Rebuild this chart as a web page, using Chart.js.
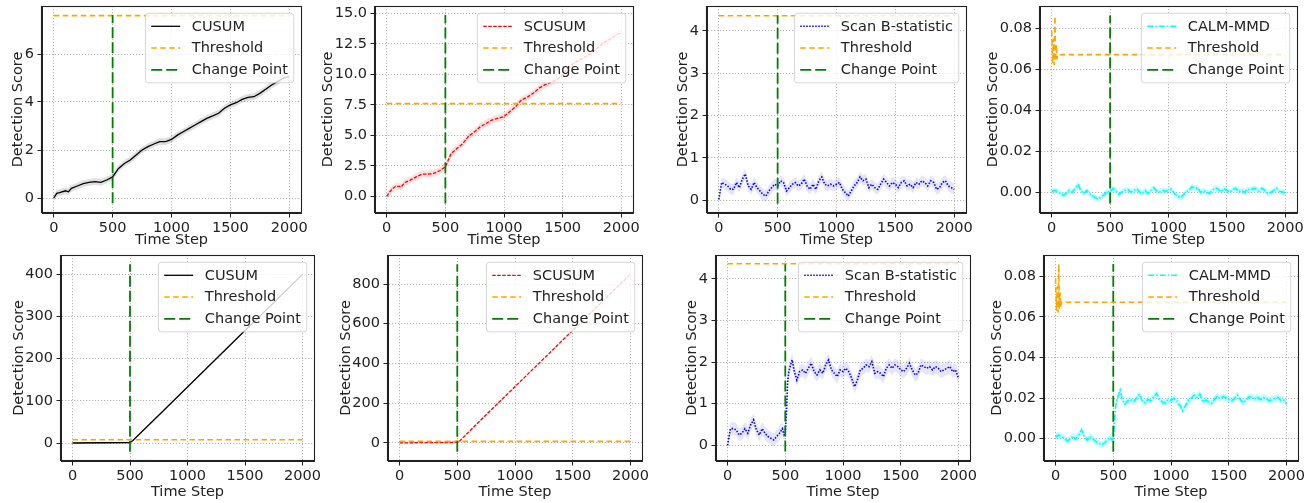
<!DOCTYPE html>
<html>
<head>
<meta charset="utf-8">
<script src="https://cdn.jsdelivr.net/npm/chart.js@4.4.1/dist/chart.umd.min.js"></script>
<style>
  body { margin:0; background:#fff; width:1315px; height:503px; position:relative; overflow:hidden; }
  canvas { position:absolute; }
</style>
</head>
<body>
<canvas id="c1"></canvas><canvas id="c2"></canvas><canvas id="c3"></canvas><canvas id="c4"></canvas>
<canvas id="c5"></canvas><canvas id="c6"></canvas><canvas id="c7"></canvas><canvas id="c8"></canvas>
<script>
// ---- data ----
const xTicks = [0, 500, 1000, 1500, 2000];
const changePoint = 500;

// top row (no change in mean after 500)
const cusumTopX = [0,25,50,100,125,150,200,250,300,350,400,450,500,550,600,650,700,750,800,850,900,950,1000,1050,1100,1150,1200,1250,1300,1350,1400,1450,1500,1550,1600,1650,1700,1750,1800,1850,1900,1950,2000];
const cusumTopY = [0,0.19,0.22,0.3,0.26,0.4,0.5,0.6,0.65,0.68,0.65,0.75,0.88,1.23,1.44,1.58,1.79,2.0,2.14,2.25,2.35,2.35,2.44,2.62,2.76,2.9,3.04,3.18,3.32,3.42,3.53,3.74,3.88,3.97,4.11,4.19,4.22,4.36,4.53,4.71,4.85,4.99,5.06];

const scusumTopX = [0,25,50,75,100,125,150,200,250,300,350,400,450,500,525,550,600,650,700,750,800,850,900,950,1000,1050,1100,1150,1200,1250,1300,1350,1400,1450,1500,1550,1600,1650,1700,1750,1800,1850,1900,1950,2000];
const scusumTopY = [0,0.36,0.63,0.82,0.82,0.77,1.1,1.32,1.59,1.81,1.81,1.87,2.09,2.42,2.97,3.52,3.93,4.34,4.95,5.3,5.71,5.99,6.26,6.4,6.54,6.95,7.36,7.91,8.13,8.46,8.87,9.15,9.34,9.56,9.97,10.52,10.93,11.21,11.48,11.76,12.17,12.58,12.86,13.19,13.46];

const steps25 = [0,25,50,75,100,125,150,175,200,225,250,275,300,325,350,375,400,425,450,475,500,525,550,575,600,625,650,675,700,725,750,775,800,825,850,875,900,925,950,975,1000,1025,1050,1075,1100,1125,1150,1175,1200,1225,1250,1275,1300,1325,1350,1375,1400,1425,1450,1475,1500,1525,1550,1575,1600,1625,1650,1675,1700,1725,1750,1775,1800,1825,1850,1875,1900,1925,1950,1975,2000];
const scanBTopY = [0.02,0.42,0.38,0.34,0.26,0.26,0.42,0.3,0.5,0.62,0.34,0.26,0.42,0.3,0.22,0.14,0.1,0.22,0.3,0.38,
  0.34,0.46,0.42,0.22,0.3,0.38,0.42,0.34,0.38,0.5,0.34,0.26,0.38,0.26,0.46,0.55,0.38,0.34,0.38,0.34,
  0.38,0.42,0.26,0.18,0.1,0.22,0.34,0.42,0.55,0.46,0.5,0.3,0.38,0.3,0.26,0.38,0.5,0.42,0.34,0.42,
  0.38,0.3,0.42,0.46,0.34,0.38,0.3,0.42,0.38,0.46,0.42,0.34,0.46,0.42,0.26,0.3,0.42,0.46,0.34,0.3,0.26];
const mmdTopY = [0.0005,0.001,0.0006,-0.0005,-0.0013,-0.0005,0.001,0,0.002,0.004,0.001,-0.0005,0.001,-0.0005,-0.0016,-0.0026,-0.0032,-0.002,-0.001,0.0006,
  0,0.002,0.001,-0.001,0.0003,0.001,0.0016,0.0003,0.0006,0.002,0.0003,-0.0005,0.001,-0.0005,0.001,0.0023,0.0006,0.0003,0.001,0.0006,
  0.001,0.0016,-0.0005,-0.0016,-0.0026,-0.0013,0.0003,0.001,0.0028,0.002,0.0023,0,0.001,0,-0.0005,0.001,0.0023,0.0016,0.0003,0.002,
  0.001,0,0.0016,0.002,0.0003,0.001,0,0.0016,0.001,0.002,0.0016,0.0006,0.002,0.001,-0.0005,0,0.001,0.002,0.0006,0.0003,-0.0005];

// bottom row (mean shift at 500)
const cusumBotX = [0,250,500,525,750,1000,1250,1500,1750,2000];
const cusumBotY = [0,0.6,0.9,6,66,133,200,267,333,400];
const scusumBotY = [0,1.6,2.4,12,142,283,425,567,708,850];

const stepsShift = [0,25,50,75,100,125,150,175,200,225,250,275,300,325,350,375,400,425,450,475,490,500,510,520,530,550,560,575,
  600,625,650,675,700,725,750,775,800,825,850,875,900,925,950,975,1000,1025,1050,1075,1100,1125,1150,1175,1200,1225,1250,1275,1300,1325,
  1350,1375,1400,1425,1450,1475,1500,1525,1550,1575,1600,1625,1650,1675,1700,1725,1750,1775,1800,1825,1850,1875,1900,1925,1950,1975,2000];
const scanBBotY = [0,0.4,0.4,0.37,0.25,0.29,0.4,0.29,0.49,0.61,0.37,0.25,0.4,0.29,0.21,0.17,0.13,0.21,0.29,0.4,
  0.25,0.29,0.77,1.49,1.77,1.97,2.05,1.81,
  1.57,1.77,1.81,1.73,1.85,1.97,1.77,1.69,1.81,1.73,1.93,2.05,1.81,1.73,1.65,1.81,1.77,1.85,1.77,1.61,
  1.41,1.57,1.81,1.85,1.93,1.89,2.01,1.73,1.77,1.73,1.65,1.85,1.93,1.85,1.93,1.89,1.81,1.77,1.85,1.97,
  1.81,1.69,1.73,1.93,1.89,1.85,1.89,1.81,1.89,1.85,1.77,1.81,1.85,1.89,1.77,1.81,1.61];
const mmdBotY = [0.0007,0.0018,0.001,0.0002,-0.001,-0.0003,0.0013,-0.0003,0.0018,0.0043,0.001,-0.0007,0.0013,-0.0003,-0.0015,-0.0023,-0.0031,-0.002,-0.0007,0.0007,
  -0.0007,0.0002,0.0075,0.0157,0.019,0.0223,0.024,0.0198,
  0.017,0.0187,0.0193,0.0182,0.0198,0.022,0.0187,0.0177,0.0193,0.0187,0.0207,0.0223,0.0193,0.0182,0.0174,0.0193,0.019,0.0198,0.0187,0.0166,
  0.0138,0.016,0.019,0.0198,0.0215,0.0203,0.022,0.0182,0.019,0.0182,0.0174,0.0193,0.021,0.0198,0.0207,0.0203,0.0193,0.0187,0.0198,0.0215,
  0.0193,0.0177,0.0187,0.0207,0.0203,0.0198,0.0203,0.0193,0.0203,0.0198,0.0187,0.0193,0.0198,0.0203,0.019,0.0193,0.017];

// thresholds
const thrFlatX = [0, 2000];
const thrCusum = [7.6, 7.6];
const thrScanB = [4.36, 4.36];
const thrMmdX = [0,8,15,22,28,33,40,45,50,2000];
const thrMmd = [0.079,0.063,0.075,0.062,0.086,0.064,0.072,0.065,0.0672,0.0672];

// y ticks
const yTicksCusumTop = [0,2,4,6];
const yTicksScusumTop = [0,2.5,5,7.5,10,12.5,15];
const yTicksScanB = [0,1,2,3,4];
const yTicksMmd = [0,0.02,0.04,0.06,0.08];
const yTicksCusumBot = [0,100,200,300,400];
const yTicksScusumBot = [0,200,400,600,800];

// ---- styling ----
const FONT = 14.5;
const FAMILY = "'DejaVu Sans', sans-serif";
Chart.defaults.font.family = FAMILY;
Chart.defaults.font.size = FONT;
Chart.defaults.color = '#222';

const methods = {
  cusum:  { label: 'CUSUM', color: '#000000', dash: [], width: 1.3, band: 'rgba(0,0,0,0.13)' },
  scusum: { label: 'SCUSUM', color: '#ff0000', dash: [3.5, 1.5], width: 1.3, band: 'rgba(255,0,0,0.12)' },
  scanb:  { label: 'Scan B-statistic', color: '#0000ff', dash: [1.5, 1.5], width: 1.6, band: 'rgba(0,0,255,0.1)' },
  mmd:    { label: 'CALM-MMD', color: '#00ffff', dash: [6, 2, 1.5, 2], width: 1.6, band: 'rgba(0,255,255,0.25)' }
};
const thrStyle = { color: '#ffa500', dash: [5.5, 3.5], width: 1.6 };
const cpStyle = { color: '#008000', dash: [11, 4], width: 1.8 };

const fmt0 = v => String(v);
const fmt1 = v => v.toFixed(1);
const fmt2 = v => v.toFixed(2);

const panels = [
  { id:'c1', box:[0,0,311,258], plot:[42,6,301,213], yTitleX:18.5, xTitleY:240, m:'cusum', x:cusumTopX, y:cusumTopY, band:0.14,
    thrX:thrFlatX, thrY:thrCusum, cp:[-0.22,7.62], yMin:-0.625, yMax:8.0, yTicks:yTicksCusumTop, fmt:fmt0 },
  { id:'c2', box:[312,0,331,258], plot:[375,6,633,213], yTitleX:328, xTitleY:240, m:'scusum', x:scusumTopX, y:scusumTopY, band:0.3,
    thrX:thrFlatX, thrY:thrCusum, cp:[-0.6,14.86], yMin:-1.37, yMax:15.6, yTicks:yTicksScusumTop, fmt:fmt1 },
  { id:'c3', box:[644,0,332,258], plot:[707,6,966,213], yTitleX:683.5, xTitleY:240, m:'scanb', x:steps25, y:scanBTopY, band:0.13,
    thrX:thrFlatX, thrY:thrScanB, cp:[-0.08,4.37], yMin:-0.30, yMax:4.59, yTicks:yTicksScanB, fmt:fmt0 },
  { id:'c4', box:[977,0,338,258], plot:[1040,6,1297,213], yTitleX:993, xTitleY:240, m:'mmd', x:steps25, y:mmdTopY, band:0.0014,
    thrX:thrMmdX, thrY:thrMmd, cp:[-0.0054,0.0863], yMin:-0.0100, yMax:0.0909, yTicks:yTicksMmd, fmt:fmt2 },
  { id:'c5', box:[0,250,324,253], plot:[61,255,314,461], yTitleX:19, xTitleY:492, m:'cusum', x:cusumBotX, y:cusumBotY, band:2,
    thrX:thrFlatX, thrY:thrCusum, cp:[-20.5,424], yMin:-42.7, yMax:446, yTicks:yTicksCusumBot, fmt:fmt0 },
  { id:'c6', box:[325,250,327,253], plot:[388,255,642,461], yTitleX:346, xTitleY:492, m:'scusum', x:cusumBotX, y:scusumBotY, band:4,
    thrX:thrFlatX, thrY:thrCusum, cp:[-44,900], yMin:-91, yMax:946, yTicks:yTicksScusumBot, fmt:fmt0 },
  { id:'c7', box:[653,250,327,253], plot:[716,255,970,461], yTitleX:692, xTitleY:492, m:'scanb', x:stepsShift, y:scanBBotY, band:0.16,
    thrX:thrFlatX, thrY:thrScanB, cp:[-0.15,4.35], yMin:-0.377, yMax:4.57, yTicks:yTicksScanB, fmt:fmt0 },
  { id:'c8', box:[981,250,334,253], plot:[1044,255,1298,461], yTitleX:997, xTitleY:492, m:'mmd', x:stepsShift, y:mmdBotY, band:0.0017,
    thrX:thrMmdX, thrY:thrMmd, cp:[-0.0064,0.0861], yMin:-0.011, yMax:0.0905, yTicks:yTicksMmd, fmt:fmt2 }
];

const pts = (xs, ys) => xs.map((x, i) => ({ x: x, y: ys[i] }));

// spines on all four sides, drawn over the lines like matplotlib
const frame = {
  id: 'frame',
  afterDatasetsDraw(chart) {
    const a = chart.chartArea, ctx = chart.ctx;
    ctx.save();
    ctx.strokeStyle = '#222';
    ctx.lineWidth = 1.1;
    ctx.strokeRect(Math.round(a.left) - 0.5, Math.round(a.top) + 0.5, Math.round(a.right - a.left) + 1, Math.round(a.bottom - a.top) - 1);
    ctx.restore();
  }
};

function innerLegend(items) {
  return {
    id: 'innerLegend',
    afterDraw(chart) {
      const a = chart.chartArea, ctx = chart.ctx;
      ctx.save();
      ctx.font = FONT + 'px ' + FAMILY;
      const tw = Math.max(...items.map(it => ctx.measureText(it.label).width));
      const bp = 0.4 * FONT, hl = 2 * FONT, hp = 0.8 * FONT, ls = 0.5 * FONT, ax = 0.5 * FONT, rowH = FONT;
      const w = 2 * bp + hl + hp + tw;
      const h = 2 * bp + items.length * rowH + (items.length - 1) * ls;
      const x0 = a.right - ax - w, y0 = a.top + ax;
      ctx.beginPath();
      ctx.roundRect(x0, y0, w, h, 0.2 * FONT);
      ctx.fillStyle = 'rgba(255,255,255,0.8)';
      ctx.fill();
      ctx.strokeStyle = 'rgba(204,204,204,0.8)';
      ctx.lineWidth = 1;
      ctx.stroke();
      items.forEach((it, i) => {
        const cy = y0 + bp + rowH / 2 + i * (rowH + ls);
        ctx.beginPath();
        ctx.setLineDash(it.dash);
        ctx.strokeStyle = it.color;
        ctx.lineWidth = it.width;
        ctx.moveTo(x0 + bp, cy);
        ctx.lineTo(x0 + bp + hl, cy);
        ctx.stroke();
        ctx.setLineDash([]);
        ctx.fillStyle = '#222';
        ctx.textBaseline = 'middle';
        ctx.textAlign = 'left';
        ctx.fillText(it.label, x0 + bp + hl + hp, cy + 0.5);
      });
      ctx.restore();
    }
  };
}

function drawPanel(p) {
  const cv = document.getElementById(p.id);
  const [cx, cy, cw, ch] = p.box;
  const [L, T, R, B] = p.plot;
  cv.style.left = cx + 'px';
  cv.style.top = cy + 'px';
  cv.width = cw;
  cv.height = ch;
  const st = methods[p.m];
  const lh = FONT * 1.2;
  const yW = L - cx, xH = cy + ch - B;

  const datasets = [
    { data: pts(p.x, p.y), borderColor: st.color, borderWidth: st.width, borderDash: st.dash, order: 3 },
    { data: pts(p.x, p.y.map(v => v + p.band)), borderWidth: 0, borderColor: 'transparent', backgroundColor: st.band, fill: '+1', order: 4 },
    { data: pts(p.x, p.y.map(v => v - p.band)), borderWidth: 0, borderColor: 'transparent', fill: false, order: 4 },
    { data: pts(p.thrX, p.thrY), borderColor: thrStyle.color, borderWidth: thrStyle.width, borderDash: thrStyle.dash, order: 2 },
    { data: [{ x: changePoint, y: p.cp[0] }, { x: changePoint, y: p.cp[1] }], borderColor: cpStyle.color, borderWidth: cpStyle.width, borderDash: cpStyle.dash, order: 1 }
  ];

  const legendItems = [
    { label: st.label, color: st.color, dash: st.dash, width: st.width },
    { label: 'Threshold', color: thrStyle.color, dash: thrStyle.dash, width: thrStyle.width },
    { label: 'Change Point', color: cpStyle.color, dash: cpStyle.dash, width: cpStyle.width }
  ];

  const gridOpts = { color: 'rgba(140,140,140,0.8)', lineWidth: 0.8, tickColor: '#222', tickLength: 4.5, tickWidth: 1, tickBorderDash: [] };

  new Chart(cv, {
    type: 'line',
    data: { datasets: datasets },
    options: {
      responsive: false,
      animation: false,
      devicePixelRatio: 1,
      parsing: false,
      elements: { point: { radius: 0 }, line: { tension: 0 } },
      layout: { padding: { left: 0, top: T - cy, right: cx + cw - R, bottom: 0 } },
      plugins: { legend: { display: false }, tooltip: { enabled: false } },
      scales: {
        x: {
          type: 'linear', min: -100, max: 2100,
          afterBuildTicks: s => { s.ticks = xTicks.map(v => ({ value: v })); },
          afterFit: s => { s.height = xH; s.paddingLeft = 0; s.paddingRight = 0; },
          ticks: { padding: 2.5, maxRotation: 0, autoSkip: false, callback: v => fmt0(v) },
          grid: gridOpts,
          border: { display: true, color: '#222', width: 1, dash: [1.2, 1.8] },
          title: { display: true, text: 'Time Step', padding: { top: 0, bottom: (cy + ch) - p.xTitleY - lh / 2 } }
        },
        y: {
          type: 'linear', min: p.yMin, max: p.yMax,
          afterBuildTicks: s => { s.ticks = p.yTicks.map(v => ({ value: v })); },
          afterFit: s => { s.width = yW; s.paddingTop = 0; s.paddingBottom = 0; },
          ticks: { padding: 3.5, autoSkip: false, callback: v => p.fmt(v) },
          grid: gridOpts,
          border: { display: true, color: '#222', width: 1, dash: [1.2, 1.8] },
          title: { display: true, text: 'Detection Score', padding: { top: p.yTitleX - cx - lh / 2, bottom: 0 } }
        }
      }
    },
    plugins: [frame, innerLegend(legendItems)]
  });
}

panels.forEach(drawPanel);
</script>
</body>
</html>
